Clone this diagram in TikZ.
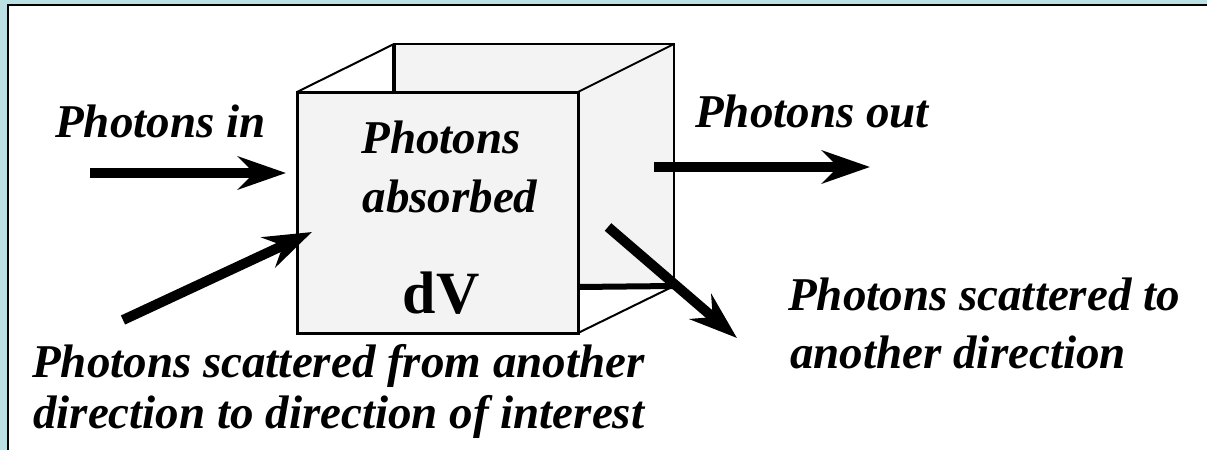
\documentclass[tikz,border=0pt]{standalone}
\usepackage{fontspec}
\setmainfont{Liberation Serif}[BoldItalicFont={Liberation Serif Bold Italic}]
\usetikzlibrary{arrows.meta}
\definecolor{bgcyan}{RGB}{187,224,227}
\definecolor{facegray}{RGB}{243,243,243}
\begin{document}
\begin{tikzpicture}[x=1pt,y=-1pt,
  lbl/.style={inner sep=0pt, anchor=base west, font=\fontsize{47}{56}\selectfont\bfseries\itshape},
  clbl/.style={lbl, anchor=base},
  ray/.style={line width=10pt, -{Stealth[length=48pt,width=33pt,inset=16pt]}},
  thinedge/.style={line width=2pt},
  ]
\useasboundingbox (0,0) rectangle (1207,450);
% frame
\fill[bgcyan] (0,0) rectangle (1207,450);
\fill[white] (8,5) rectangle (1207,450);
\draw[line width=2.5pt] (8,450) -- (8,5) -- (1207,5);
% cube corners
\coordinate (f1) at (297,92);
\coordinate (f2) at (578,92);
\coordinate (f3) at (578,333);
\coordinate (f4) at (297,333);
\coordinate (b1) at (394,44);
\coordinate (b2) at (674,44);
\coordinate (b3) at (674,286);
\coordinate (bl) at (394,92);
\coordinate (bm) at (578,287);
% back face
\filldraw[fill=facegray, line width=2.5pt] (b1) rectangle (b3);
\draw[thinedge] (f1) -- (b1);
\draw[thinedge] (f2) -- (b2);
\draw[thinedge] (f3) -- (b3);
\draw[line width=4.5pt] (b1) -- (bl);
\draw[line width=6pt] (bm) -- (b3);
% front face
\filldraw[fill=facegray, line width=3pt] (f1) rectangle (f3);
% labels
\node[lbl] (tin) at (55,137) {Photons in};
\node[clbl] (tab1) at (441,153) {Photons};
\node[clbl] (tab2) at (450,212) {absorbed};
\node[inner sep=0pt, anchor=base, font=\fontsize{60}{70}\selectfont\bfseries] (tdv) at (441,313) {dV};
\node[lbl] (tout) at (695,127) {Photons out};
\node[lbl] (tso1) at (788,310) {Photons scattered to};
\node[lbl] (tso2) at (790,368) {another direction};
\node[lbl] (tsi1) at (32,377) {Photons scattered from another};
\node[lbl] (tsi2) at (33,428) {direction to direction of interest};
% arrows
\coordinate (a1s) at (90,173);
\coordinate (a1e) at (286,173);
\coordinate (a2s) at (123,320);
\coordinate (a2e) at (312,232);
\coordinate (a3s) at (654,167);
\coordinate (a3e) at (870,167);
\coordinate (a4s) at (608,227);
\coordinate (a4e) at (737,338);
\draw[ray] (a1s) -- (a1e);
\draw[ray] (a2s) -- (a2e);
\draw[ray] (a3s) -- (a3e);
\draw[ray] (a4s) -- (a4e);
\end{tikzpicture}
\end{document}
